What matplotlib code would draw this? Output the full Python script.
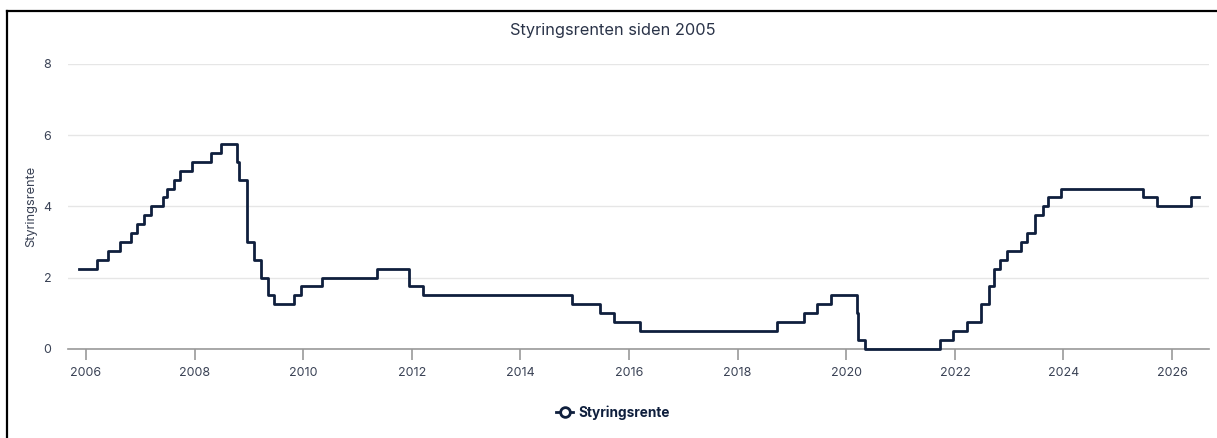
import matplotlib.pyplot as plt
import matplotlib.dates as mdates
import pandas as pd
from matplotlib.lines import Line2D

# Styringsrenten, datoer for endringer
datoer = ["2005-11-17", "2006-03-16", "2006-05-31", "2006-08-16", "2006-11-01",
          "2006-12-13", "2007-01-24", "2007-03-15", "2007-05-31", "2007-06-27",
          "2007-08-15", "2007-09-26", "2007-12-12", "2008-04-23", "2008-06-25",
          "2008-10-15", "2008-10-29", "2008-12-17", "2009-02-04", "2009-03-25",
          "2009-05-06", "2009-06-17", "2009-10-28", "2009-12-16", "2010-05-05",
          "2011-05-12", "2011-12-14", "2012-03-14", "2014-12-11", "2015-06-18",
          "2015-09-24", "2016-03-17", "2018-09-20", "2019-03-21", "2019-06-20",
          "2019-09-19", "2020-03-13", "2020-03-20", "2020-05-07", "2021-09-23",
          "2021-12-16", "2022-03-24", "2022-06-23", "2022-08-18", "2022-09-22",
          "2022-11-03", "2022-12-15", "2023-03-23", "2023-05-04", "2023-06-22",
          "2023-08-17", "2023-09-21", "2023-12-14", "2025-06-19", "2025-09-18",
          "2026-05-07", "2026-07-01"]
renter = [2.25, 2.5, 2.75, 3.0, 3.25,
          3.5, 3.75, 4.0, 4.25, 4.5,
          4.75, 5.0, 5.25, 5.5, 5.75,
          5.25, 4.75, 3.0, 2.5, 2.0,
          1.5, 1.25, 1.5, 1.75, 2.0,
          2.25, 1.75, 1.5, 1.25, 1.0,
          0.75, 0.5, 0.75, 1.0, 1.25,
          1.5, 1.0, 0.25, 0.0, 0.25,
          0.5, 0.75, 1.25, 1.75, 2.25,
          2.5, 2.75, 3.0, 3.25, 3.75,
          4.0, 4.25, 4.5, 4.25, 4.0,
          4.25, 4.25]
y_ticks = [0, 2, 4, 6, 8]
x_aar = list(range(2006, 2027, 2))

navy = "#0f1f3d"
tekst = "#3a4255"
plt.rcParams['font.family'] = ['Inter', 'DejaVu Sans']

fig = plt.figure(figsize=(12.17, 4.38), dpi=100)
ax = fig.add_axes([68 / 1217, 1 - 348.7 / 438, (1209 - 68) / 1217, (348.7 - 64) / 438])

x = pd.to_datetime(datoer)
ax.step(x, renter, where='post', color=navy, lw=2, clip_on=False, zorder=3)

ax.set_ylim(0, 8)
ax.set_yticks(y_ticks)
ax.set_xlim(pd.Timestamp("2005-09-02"), pd.Timestamp("2026-09-06"))
ax.set_xticks([pd.Timestamp(f"{a}-01-01") for a in x_aar])
ax.xaxis.set_major_formatter(mdates.DateFormatter("%Y"))

ax.grid(axis='y', color='#e6e6e6', lw=1)
ax.set_axisbelow(True)
for s in ['top', 'right', 'left']:
    ax.spines[s].set_visible(False)
ax.spines['bottom'].set_color('#999999')
ax.spines['bottom'].set_linewidth(1.2)
ax.tick_params(axis='y', length=0, pad=12, labelsize=9, labelcolor=tekst)
ax.tick_params(axis='x', length=8, width=1.2, color='#999999', pad=5,
               labelsize=9, labelcolor=tekst)

ax.set_ylabel("Styringsrente", fontsize=9.2, color=tekst)
ax.yaxis.set_label_coords((37 - 68) / 1141, 0.5)

fig.text(613 / 1217, 1 - 30 / 438, "Styringsrenten siden 2005", ha='center',
         va='center', fontsize=11.8, color="#2a3348")

handle = Line2D([], [], color=navy, lw=2, marker='o', markersize=7,
                markerfacecolor='white', markeredgecolor=navy, markeredgewidth=2)
leg = fig.legend([handle], ["Styringsrente"], loc='center',
                 bbox_to_anchor=(613 / 1217, 1 - 413 / 438), frameon=False,
                 handlelength=1.3, handletextpad=0.4,
                 prop={'weight': 'bold', 'size': 9.8})
for t in leg.get_texts():
    t.set_color(navy)

# ramme fra skjermbildet
fig.add_artist(Line2D([7 / 1217, 7 / 1217], [0, 1 - 11 / 438], color='black', lw=1.6))
fig.add_artist(Line2D([7 / 1217, 1], [1 - 11 / 438, 1 - 11 / 438], color='black', lw=1.6))

fig.savefig("out.png", dpi=100)
